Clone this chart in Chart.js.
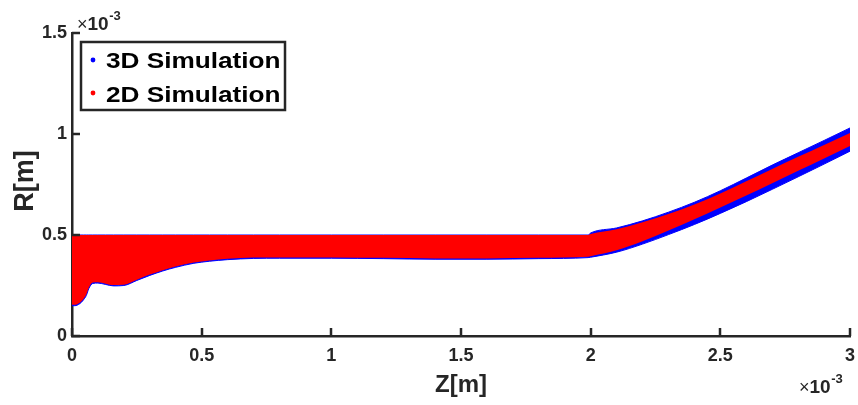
<!DOCTYPE html>
<html>
<head>
<meta charset="utf-8">
<script src="https://cdn.jsdelivr.net/npm/chart.js@4/dist/chart.umd.min.js"></script>
<style>
  html, body { margin: 0; padding: 0; background: #ffffff; }
  #wrap { width: 858px; height: 405px; position: relative; }
</style>
</head>
<body>
<div id="wrap"><canvas id="c" width="858" height="405"></canvas></div>
<script>
// Axial position Z (units of 1e-3 m)
const zGrid = [0, 0.01, 0.03, 0.045, 0.055, 0.065, 0.08, 0.1, 0.13, 0.16, 0.2, 0.25, 0.3, 0.35, 0.4, 0.47, 0.53, 0.6, 0.7, 0.8, 1.0, 1.2, 1.4, 1.6, 1.8, 1.99, 2.0, 2.1, 2.2, 2.3, 2.4, 2.5, 2.6, 2.7, 2.8, 2.9, 3.0];
// 3D simulation particle envelope R (units of 1e-3 m)
const r3dLower = [0.15, 0.15, 0.16, 0.18, 0.2, 0.235, 0.26, 0.262, 0.255, 0.248, 0.25, 0.275, 0.3, 0.322, 0.34, 0.36, 0.37, 0.378, 0.384, 0.385, 0.385, 0.383, 0.38, 0.38, 0.383, 0.388, 0.39, 0.415, 0.455, 0.502, 0.552, 0.607, 0.665, 0.726, 0.788, 0.851, 0.915];
const r3dUpper = [0.5, 0.5, 0.5, 0.5, 0.5, 0.5, 0.5, 0.5, 0.5, 0.5, 0.5, 0.5, 0.5, 0.5, 0.5, 0.5, 0.5, 0.5, 0.5, 0.5, 0.5, 0.5, 0.5, 0.5, 0.5, 0.5, 0.51, 0.535, 0.57, 0.613, 0.662, 0.719, 0.782, 0.846, 0.907, 0.968, 1.03];
// 2D simulation particle envelope R (units of 1e-3 m)
const r2dLower = [0.155, 0.155, 0.165, 0.185, 0.205, 0.24, 0.265, 0.266, 0.259, 0.252, 0.254, 0.279, 0.304, 0.326, 0.344, 0.364, 0.374, 0.382, 0.388, 0.389, 0.389, 0.387, 0.384, 0.384, 0.387, 0.392, 0.395, 0.425, 0.469, 0.522, 0.578, 0.636, 0.695, 0.756, 0.818, 0.879, 0.94];
const r2dUpper = [0.5, 0.5, 0.5, 0.5, 0.5, 0.5, 0.5, 0.5, 0.5, 0.5, 0.5, 0.5, 0.5, 0.5, 0.5, 0.5, 0.5, 0.5, 0.5, 0.5, 0.5, 0.5, 0.5, 0.5, 0.5, 0.5, 0.505, 0.528, 0.563, 0.604, 0.651, 0.705, 0.766, 0.827, 0.887, 0.946, 1.005];

const seriesNames = ['3D Simulation', '2D Simulation'];
const xTickValues = [0, 0.5, 1, 1.5, 2, 2.5, 3];
const xTickLabels = ['0', '0.5', '1', '1.5', '2', '2.5', '3'];
const yTickValues = [0, 0.5, 1, 1.5];
const yTickLabels = ['0', '0.5', '1', '1.5'];
const xTitle = 'Z[m]';
const yTitle = 'R[m]';

const BLUE = '#0000ff';
const RED = '#ff0000';
const AXIS = '#262626';
const FONT = '"Liberation Sans", Arial, Helvetica, sans-serif';

const pts = (ys) => zGrid.map((z, i) => ({ x: z, y: ys[i] }));

function labelFor(values, labels, v) {
  const i = values.findIndex(t => Math.abs(t - v) < 1e-9);
  return i >= 0 ? labels[i] : '';
}

const decor = {
  id: 'decor',
  afterDraw(chart) {
    const ctx = chart.ctx;
    const xs = chart.scales.x, ys = chart.scales.y;
    const a = chart.chartArea;
    ctx.save();
    // inward tick marks
    ctx.strokeStyle = AXIS;
    ctx.lineWidth = 2.5;
    ctx.beginPath();
    xTickValues.forEach(v => {
      const px = Math.round(xs.getPixelForValue(v));
      ctx.moveTo(px, a.bottom);
      ctx.lineTo(px, a.bottom - 8);
    });
    yTickValues.forEach(v => {
      const py = Math.round(ys.getPixelForValue(v));
      ctx.moveTo(a.left, py);
      ctx.lineTo(a.left + 8, py);
    });
    ctx.stroke();

    // axis titles
    ctx.fillStyle = AXIS;
    ctx.textAlign = 'center';
    ctx.textBaseline = 'middle';
    ctx.font = 'bold 24px ' + FONT;
    ctx.fillText(xTitle, 461, 385);
    ctx.save();
    ctx.translate(26, 181);
    ctx.rotate(-Math.PI / 2);
    ctx.font = 'bold 27px ' + FONT;
    ctx.fillText(yTitle, 0, 0);
    ctx.restore();

    // exponent labels
    function expo(x, yb) {
      ctx.textAlign = 'left';
      ctx.textBaseline = 'alphabetic';
      ctx.font = '18px ' + FONT;
      ctx.fillText('\u00d7', x, yb);
      const w1 = ctx.measureText('\u00d7').width;
      ctx.font = 'bold 19px ' + FONT;
      ctx.fillText('10', x + w1, yb);
      const w2 = ctx.measureText('10').width;
      ctx.font = 'bold 13px ' + FONT;
      ctx.fillText('-3', x + w1 + w2 + 0.5, yb - 10);
    }
    expo(77, 30);
    expo(799, 393);

    // legend
    const lx = 81, ly = 42, lw = 204, lh = 68;
    ctx.fillStyle = '#ffffff';
    ctx.fillRect(lx, ly, lw, lh);
    ctx.strokeStyle = AXIS;
    ctx.lineWidth = 2.5;
    ctx.strokeRect(lx, ly, lw, lh);
    const rows = [{ c: BLUE, y: 60, t: seriesNames[0], b: 68.3 }, { c: RED, y: 93, t: seriesNames[1], b: 101.7 }];
    rows.forEach(r => {
      ctx.fillStyle = r.c;
      ctx.beginPath();
      ctx.arc(93, r.y, 2.4, 0, Math.PI * 2);
      ctx.fill();
      ctx.save();
      ctx.translate(106, r.b);
      ctx.scale(1.19, 1);
      ctx.fillStyle = '#000000';
      ctx.font = 'bold 22px ' + FONT;
      ctx.textAlign = 'left';
      ctx.textBaseline = 'alphabetic';
      ctx.fillText(r.t, 0, 0);
      ctx.restore();
    });
    ctx.restore();
  }
};

new Chart(document.getElementById('c'), {
  type: 'line',
  data: {
    datasets: [
      { label: seriesNames[1], data: pts(r2dUpper), borderColor: RED, backgroundColor: RED, borderWidth: 0, pointRadius: 0, fill: '+1', order: 0 },
      { label: seriesNames[1] + ' (inner)', data: pts(r2dLower), borderColor: RED, backgroundColor: RED, borderWidth: 0, pointRadius: 0, fill: false, order: 0 },
      { label: seriesNames[0], data: pts(r3dUpper), borderColor: BLUE, backgroundColor: BLUE, borderWidth: 1, pointRadius: 0, fill: '+1', order: 1 },
      { label: seriesNames[0] + ' (inner)', data: pts(r3dLower), borderColor: BLUE, backgroundColor: BLUE, borderWidth: 1, pointRadius: 0, fill: false, order: 1 }
    ]
  },
  options: {
    responsive: false,
    animation: false,
    events: [],
    layout: { padding: { top: 33, right: 8, left: 0, bottom: 0 } },
    elements: { line: { tension: 0.3, cubicInterpolationMode: 'monotone' } },
    plugins: { legend: { display: false }, tooltip: { enabled: false } },
    scales: {
      x: {
        type: 'linear', min: 0, max: 3,
        afterBuildTicks: (s) => { s.ticks = xTickValues.map(v => ({ value: v })); },
        afterFit: (s) => { s.height = 69; s.paddingRight = 0; s.paddingLeft = 0; },
        grid: { display: false, drawTicks: false },
        border: { display: true, color: AXIS, width: 2.5 },
        ticks: {
          padding: 9, color: AXIS, maxRotation: 0, autoSkip: false,
          font: { family: FONT, size: 18, weight: 'bold' },
          callback: (v) => labelFor(xTickValues, xTickLabels, v)
        }
      },
      y: {
        type: 'linear', min: 0, max: 1.5,
        afterBuildTicks: (s) => { s.ticks = yTickValues.map(v => ({ value: v })); },
        afterFit: (s) => { s.width = 72; s.paddingTop = 0; s.paddingBottom = 0; },
        grid: { display: false, drawTicks: false },
        border: { display: true, color: AXIS, width: 2.5 },
        ticks: {
          padding: 5, color: AXIS, autoSkip: false,
          font: { family: FONT, size: 18, weight: 'bold' },
          callback: (v) => labelFor(yTickValues, yTickLabels, v)
        }
      }
    }
  },
  plugins: [decor]
});
</script>
</body>
</html>
